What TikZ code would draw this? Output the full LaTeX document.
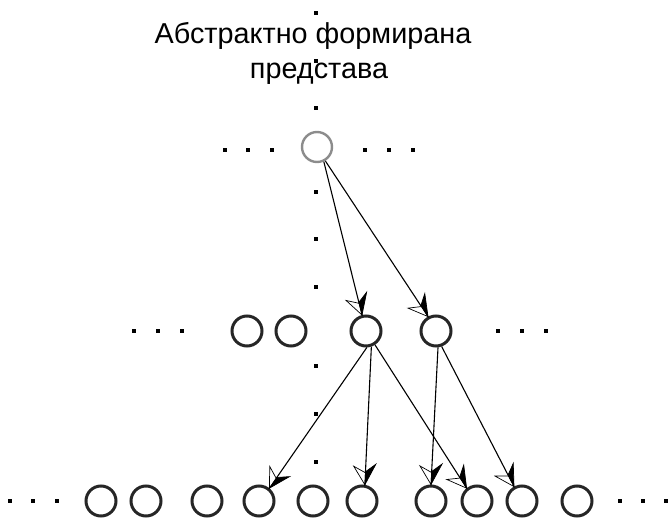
\documentclass[tikz,border=0pt]{standalone}
\usepackage{fontspec}
\setmainfont{Liberation Sans}
\usepackage{tikz}
\usetikzlibrary{arrows}

% half filled, half open arrow head
\pgfarrowsdeclare{halftip}{halftip}
{\pgfarrowsleftextend{-22pt}\pgfarrowsrightextend{0pt}}
{
  \pgfsetdash{}{0pt}\pgfsetlinewidth{0.7pt}\pgfsetmiterjoin
  \pgfpathmoveto{\pgfpoint{0pt}{0pt}}
  \pgfpathlineto{\pgfpoint{-18pt}{-12pt}}
  \pgfpathlineto{\pgfpoint{-12pt}{0pt}}
  \pgfpathclose
  \pgfsetfillcolor{white}\pgfusepathqfillstroke
  \pgfpathmoveto{\pgfpoint{0pt}{0pt}}
  \pgfpathlineto{\pgfpoint{-21pt}{10pt}}
  \pgfpathlineto{\pgfpoint{-13pt}{0pt}}
  \pgfpathclose
  \pgfsetfillcolor{black}\pgfusepathqfillstroke
}

\tikzset{
  neuron/.style={circle, draw=black!85, line width=3pt, minimum size=30pt, inner sep=0pt},
  topneuron/.style={neuron, draw=black!45, line width=2.4pt},
  sqdot/.style={rectangle, fill=black, minimum size=4pt, inner sep=0pt},
  link/.style={-halftip, line width=1.1pt, black},
}

\begin{document}
\begin{tikzpicture}[x=1pt, y=-1pt]
\useasboundingbox (0,0) rectangle (670,519);
\fontsize{28.8}{34}\selectfont

\node[anchor=base] (titleone) at (313,44) {Абстрактно формирана};
\node[anchor=base] (titletwo) at (319,78) {представа};

% dotted axis
\foreach \y [count=\i] in {13,61,108,192,239,287,366,414,462}
  \node[sqdot] (axis\i) at (316,\y) {};

% dots beside the rows
\foreach \x in {225,248,272,365,389,413}
  \node[sqdot] at (\x,150) {};
\foreach \x in {134,158,182,498,522,546}
  \node[sqdot] at (\x,331) {};
\foreach \x in {10,33,57,620,643,666}
  \node[sqdot] at (\x,501) {};

% neurons
\node[topneuron] (top) at (317,147) {};
\foreach \x [count=\i] in {247,291,366,436}
  \node[neuron] (mid\i) at (\x,331) {};
\foreach \x [count=\i] in {101,146,207,259,313,362,431,477,522,577}
  \node[neuron] (bot\i) at (\x,501) {};

\draw[link] (top.-65) -- (mid3.104);
\draw[link] (top.-59) -- (mid4.119);

\draw[link] (mid3.-87) -- (bot4.51);
\draw[link] (mid3.-71) -- (bot6.80);
\draw[link] (mid3.-57) -- (bot8.129);
\draw[link] (mid4.-83) -- (bot7.90);
\draw[link] (mid4.-70) -- (bot9.119);

\end{tikzpicture}
\end{document}
